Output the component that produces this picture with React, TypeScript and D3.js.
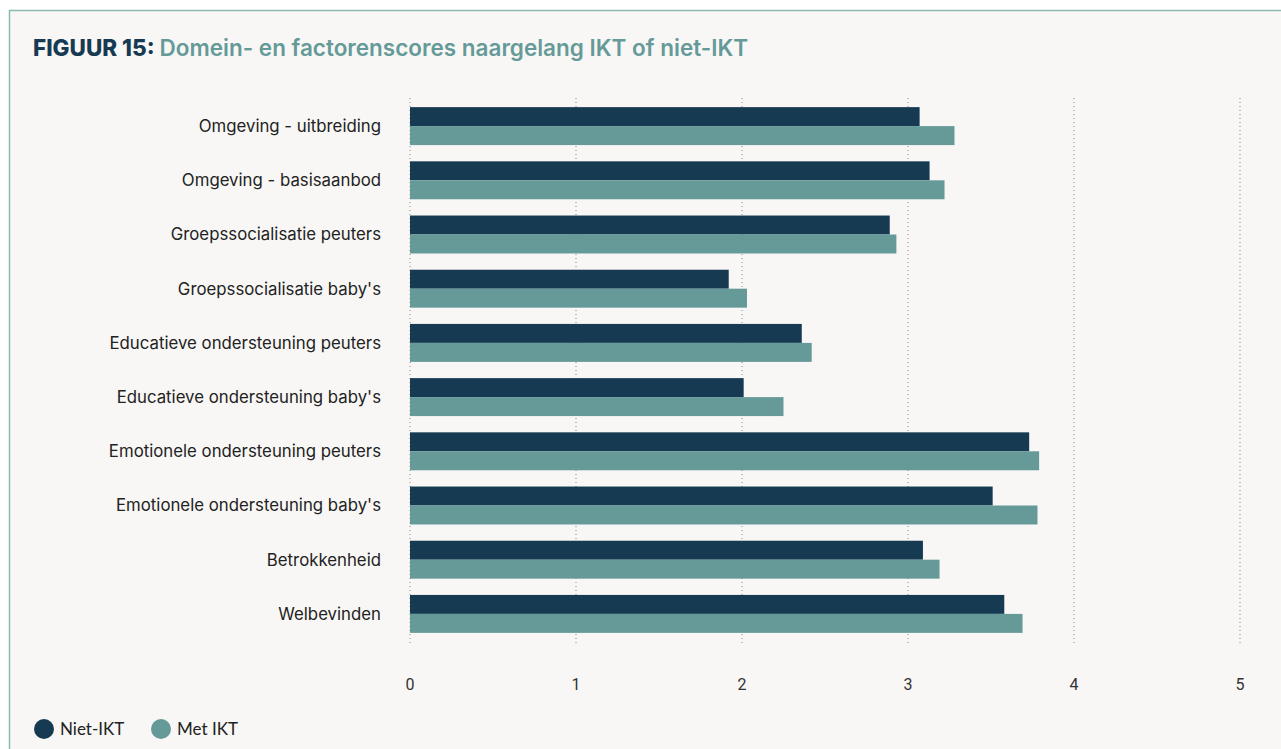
import React, { useEffect, useRef } from 'react';
import * as d3 from 'd3';

const categories = [
  'Omgeving - uitbreiding',
  'Omgeving - basisaanbod',
  'Groepssocialisatie peuters',
  "Groepssocialisatie baby's",
  'Educatieve ondersteuning peuters',
  "Educatieve ondersteuning baby's",
  'Emotionele ondersteuning peuters',
  "Emotionele ondersteuning baby's",
  'Betrokkenheid',
  'Welbevinden',
];
const nietIkt = [3.07, 3.13, 2.89, 1.92, 2.36, 2.01, 3.73, 3.51, 3.09, 3.58];
const metIkt = [3.28, 3.22, 2.93, 2.03, 2.42, 2.25, 3.79, 3.78, 3.19, 3.69];
const seriesNames = ['Niet-IKT', 'Met IKT'];
const seriesColors = ['#173a53', '#659a99'];
const xTicks = [0, 1, 2, 3, 4, 5];

const W = 1281;
const H = 749;

export default function App() {
  const ref = useRef<SVGSVGElement>(null);

  useEffect(() => {
    const svg = d3.select(ref.current);
    svg.selectAll('*').remove();

    svg.append('rect').attr('width', W).attr('height', H).attr('fill', '#ffffff');
    svg.append('rect')
      .attr('x', 9.5).attr('y', 10.5)
      .attr('width', W).attr('height', H)
      .attr('fill', '#f8f7f5')
      .attr('stroke', '#8cb8b5').attr('stroke-width', 1.5);

    const title = svg.append('text')
      .attr('x', 33).attr('y', 56)
      .attr('font-family', 'Inter, "Noto Sans", sans-serif')
      .attr('font-size', 22.5);
    title.append('tspan').attr('font-weight', 800).attr('fill', '#173a53').text('FIGUUR 15: ');
    title.append('tspan').attr('font-weight', 600).attr('fill', '#659a99')
      .text('Domein- en factorenscores naargelang IKT of niet-IKT');

    const x = d3.scaleLinear().domain([0, 5]).range([410, 1240]);
    const y = d3.scaleBand().domain(categories).range([99, 641]).paddingInner(0.3).paddingOuter(0.15);
    const sub = d3.scaleBand().domain(seriesNames).range([0, y.bandwidth()]);

    // dotted gridlines
    svg.append('g').selectAll('line')
      .data(xTicks)
      .enter()
      .append('line')
      .attr('x1', d => x(d)).attr('x2', d => x(d))
      .attr('y1', 98).attr('y2', 644)
      .attr('stroke', '#888')
      .attr('stroke-width', 1)
      .attr('stroke-dasharray', '1,3');

    const series = [nietIkt, metIkt];
    series.forEach((vals, si) => {
      svg.append('g').selectAll('rect')
        .data(categories)
        .enter()
        .append('rect')
        .attr('x', x(0))
        .attr('y', d => (y(d) as number) + (sub(seriesNames[si]) as number))
        .attr('width', (d, i) => x(vals[i]) - x(0))
        .attr('height', sub.bandwidth())
        .attr('fill', seriesColors[si]);
    });

    // category labels
    svg.append('g').selectAll('text')
      .data(categories)
      .enter()
      .append('text')
      .attr('x', 381)
      .attr('y', d => (y(d) as number) + y.bandwidth() / 2)
      .attr('dy', '0.35em')
      .attr('text-anchor', 'end')
      .attr('font-family', 'Inter, "Noto Sans", sans-serif')
      .attr('font-size', 16.8)
      .attr('fill', '#222')
      .text(d => d);

    // x tick labels
    svg.append('g').selectAll('text')
      .data(xTicks)
      .enter()
      .append('text')
      .attr('x', d => x(d))
      .attr('y', 690)
      .attr('text-anchor', 'middle')
      .attr('font-family', '"Liberation Sans Narrow", "Roboto", sans-serif')
      .attr('font-size', 16)
      .attr('fill', '#333')
      .text(d => d);

    // legend
    const lg = svg.append('g').attr('transform', 'translate(0,729)');
    const offsets = [44, 161];
    seriesNames.forEach((name, i) => {
      lg.append('circle').attr('cx', offsets[i]).attr('cy', 0).attr('r', 10).attr('fill', seriesColors[i]);
      lg.append('text')
        .attr('x', offsets[i] + 16).attr('y', 0).attr('dy', '0.35em')
        .attr('font-family', 'Lato, "Noto Sans", sans-serif')
        .attr('font-size', 17)
        .attr('fill', '#222')
        .text(name);
    });
  }, []);

  return (
    <svg ref={ref} width={W} height={H}
      style={{ position: 'absolute', left: 0, top: 0, display: 'block' }} />
  );
}
